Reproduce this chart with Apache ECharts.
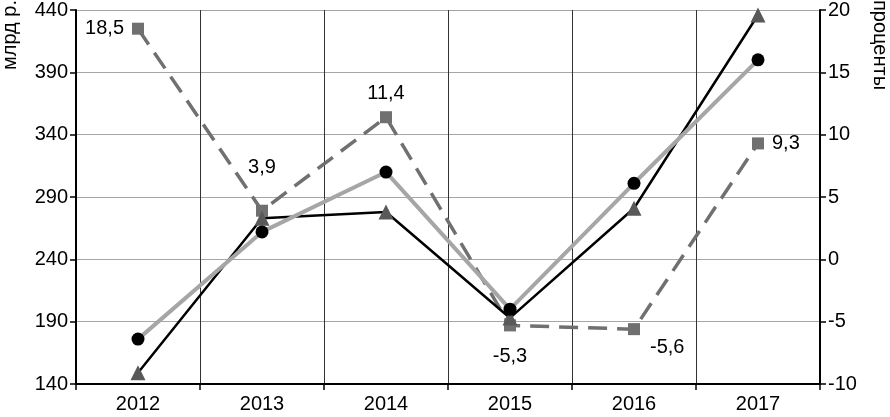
<!DOCTYPE html>
<html><head><meta charset="utf-8">
<script src="https://cdn.jsdelivr.net/npm/echarts@6/dist/echarts.min.js"></script>
<style>html,body{margin:0;padding:0;background:#fff}#c{width:890px;height:417px}</style>
</head><body><div id="c"></div>
<script>
const categories = ['2012','2013','2014','2015','2016','2017'];
const seriesCircle = [176, 262, 310, 200, 301, 400];
const seriesTriangle = [149, 273, 278, 193, 281, 436];
const seriesPercent = [18.5, 3.9, 11.4, -5.3, -5.6, 9.3];
const leftTicks = {min:140, max:440, interval:50};
const rightTicks = {min:-10, max:20, interval:5};
const leftName = 'млрд р.';
const rightName = 'проценты';

const labelStyles = [
  {position:'left', distance:8},
  {position:'top', distance:27},
  {position:'top', distance:8},
  {position:'bottom', distance:15},
  {position:'right', distance:10, offset:[0,18]},
  {position:'right', distance:8}
];
const fnt = 'Liberation Sans, Arial, sans-serif';
const fs = 20;
const chart = echarts.init(document.getElementById('c'));
chart.setOption({
  animation:false,
  textStyle:{fontFamily:fnt},
  grid:{left:76, right:70, top:10, bottom:33},
  xAxis:{type:'category', data:categories, boundaryGap:true,
    axisLine:{onZero:false, lineStyle:{color:'#000', width:2}},
    axisTick:{show:true, length:6, lineStyle:{color:'#000', width:1.5}},
    splitLine:{show:true, lineStyle:{color:'#333', width:1}},
    axisLabel:{color:'#000', fontSize:fs, margin:10, fontFamily:fnt}},
  yAxis:[
    {type:'value', min:leftTicks.min, max:leftTicks.max, interval:leftTicks.interval,
     axisLine:{show:true, lineStyle:{color:'#000', width:2}},
     axisTick:{show:true, length:6, lineStyle:{color:'#000', width:1.5}},
     splitLine:{show:true, lineStyle:{color:'#a6a6a6', width:1}},
     axisLabel:{color:'#000', fontSize:fs, margin:8, fontFamily:fnt}},
    {type:'value', position:'right', min:rightTicks.min, max:rightTicks.max, interval:rightTicks.interval,
     axisLine:{show:true, onZero:false, lineStyle:{color:'#000', width:2}},
     axisTick:{show:true, length:6, lineStyle:{color:'#000', width:1.5}},
     splitLine:{show:false},
     axisLabel:{color:'#000', fontSize:fs, margin:8, fontFamily:fnt}}
  ],
  graphic:[
    {type:'text', x:10, y:0, rotation:Math.PI/2,
     style:{text:leftName, font:fs + 'px ' + fnt, fill:'#000', align:'right', verticalAlign:'middle'}},
    {type:'text', x:880, y:0, rotation:-Math.PI/2,
     style:{text:rightName, font:fs + 'px ' + fnt, fill:'#000', align:'left', verticalAlign:'middle'}}
  ],
  series:[
    {type:'line', yAxisIndex:1, data:seriesPercent.map((v,i)=>({value:v, label:Object.assign({show:true}, labelStyles[i])})),
     symbol:'rect', symbolSize:12, itemStyle:{color:'#707070'},
     lineStyle:{color:'#707070', width:3.5, type:[19,10]},
     label:{color:'#000', fontSize:fs, fontFamily:fnt, formatter:p=>String(p.value).replace('.',',')},
     z:2},
    {type:'line', yAxisIndex:0, data:seriesTriangle,
     symbol:'triangle', symbolSize:15, itemStyle:{color:'#595959'},
     lineStyle:{color:'#000', width:2.5}, z:3},
    {type:'line', yAxisIndex:0, data:seriesCircle,
     symbol:'circle', symbolSize:13, itemStyle:{color:'#000'},
     lineStyle:{color:'#a6a6a6', width:4}, z:4}
  ]
});
</script></body></html>
